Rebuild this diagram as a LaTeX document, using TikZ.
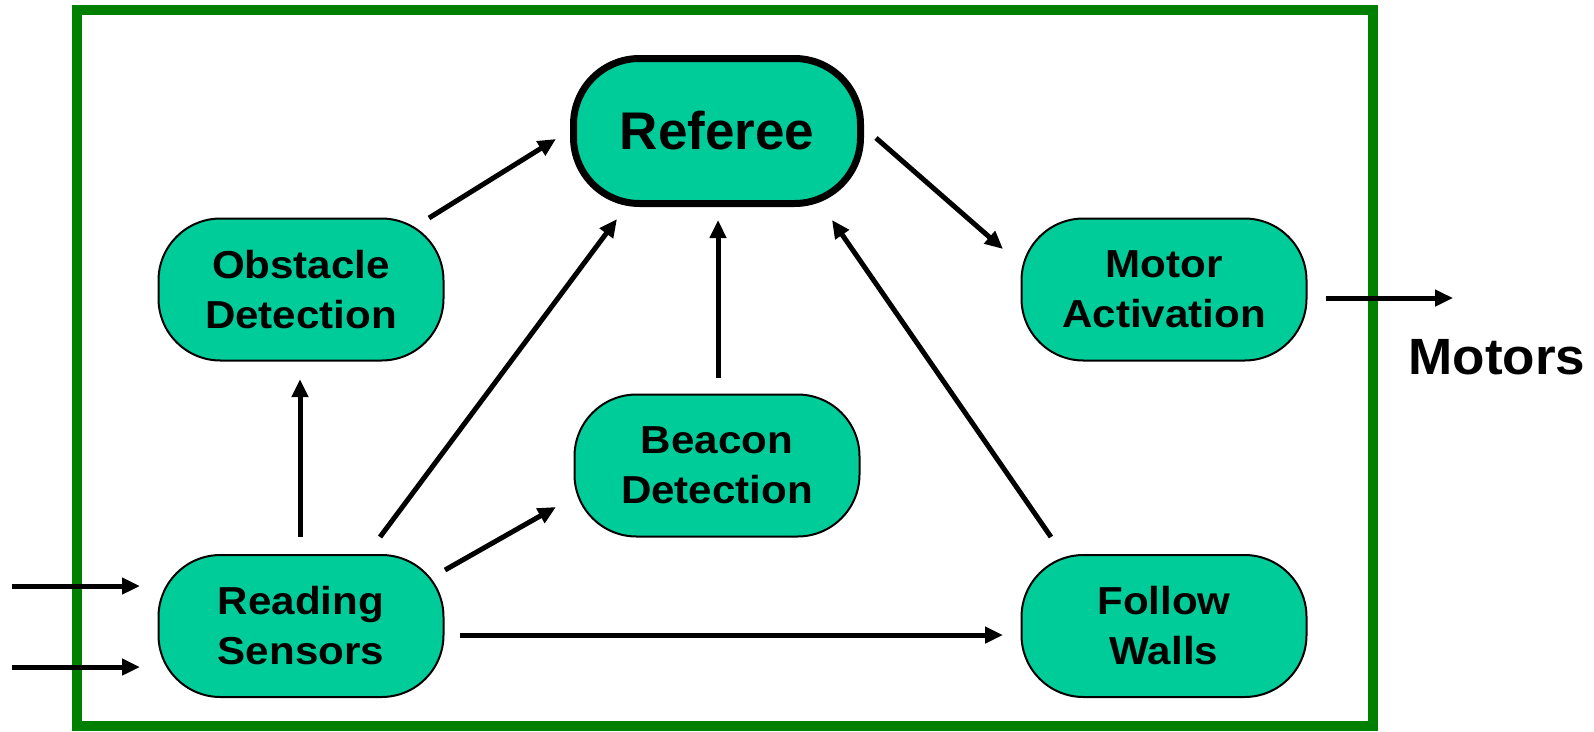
\documentclass[tikz,border=0pt]{standalone}
\usepackage{fontspec}
\setmainfont{Liberation Sans}
\newfontfamily\boxfont{Liberation Sans}[FakeStretch=1.08]
\newfontfamily\motfont{Liberation Sans}[FakeStretch=1.04]
\usetikzlibrary{arrows.meta}
\definecolor{nodefill}{HTML}{00CC99}
\definecolor{framegreen}{HTML}{008000}
\tikzset{
  box/.style={draw=black, line width=2pt, fill=nodefill, rounded corners=62pt,
    minimum width=285pt, minimum height=142pt, align=center, inner sep=0pt,
    font=\boxfont\fontsize{39}{50}\selectfont\bfseries},
  refbox/.style={draw=black, line width=7pt, fill=nodefill, rounded corners=66pt,
    minimum width=287pt, minimum height=145pt, align=center, inner sep=0pt,
    font=\fontsize{53}{60}\selectfont\bfseries},
  arr/.style={line width=5pt, -{Triangle[length=18pt,width=16pt]}},
}
\begin{document}
\begin{tikzpicture}[x=1pt,y=-1pt]
\useasboundingbox (0,0) rectangle (1594,731);
\draw[framegreen, line width=10pt] (77,10) rectangle (1373,726);

\node[refbox] (ref) at (717,131) {\raisebox{-2pt}{Referee}};
\node[box] (obs) at (301,289.5) {Obstacle\\Detection};
\node[box] (mot) at (1164,289.5) {Motor\\Activation};
\node[box] (bea) at (717,465.5) {Beacon\\Detection};
\node[box] (rs) at (301,626) {Reading\\Sensors};
\node[box] (fw) at (1164,626) {Follow\\Walls};
\node[font=\motfont\fontsize{51}{60}\selectfont\bfseries] (motors) at (1497,357) {Motors};

\coordinate (in1) at (12,586);
\coordinate (in2) at (12,667);
\coordinate (out) at (1453,298);

\draw[arr] ([shift={(128,-71.5)}]obs.center) -- ([shift={(-161,8)}]ref.center);
\draw[arr] ([shift={(159,7)}]ref.center) -- ([shift={(-161,-40.5)}]mot.center);
\draw[arr] ([shift={(-1,-89)}]rs.center) -- ([shift={(-1,89.5)}]obs.center);
\draw[arr] ([shift={(79,-89)}]rs.center) -- ([shift={(-100,88)}]ref.center);
\draw[arr] ([shift={(1,-87.5)}]bea.center) -- ([shift={(1,89)}]ref.center);
\draw[arr] ([shift={(-113,-89)}]fw.center) -- ([shift={(115,89)}]ref.center);
\draw[arr] ([shift={(144,-56)}]rs.center) -- ([shift={(-161,41.5)}]bea.center);
\draw[arr] ([shift={(159,9)}]rs.center) -- ([shift={(-161,9)}]fw.center);
\draw[arr] ([shift={(162,8.5)}]mot.center) -- (out);
\draw[arr] (in1) -- ([shift={(-161,-40)}]rs.center);
\draw[arr] (in2) -- ([shift={(-161,41)}]rs.center);
\end{tikzpicture}
\end{document}
